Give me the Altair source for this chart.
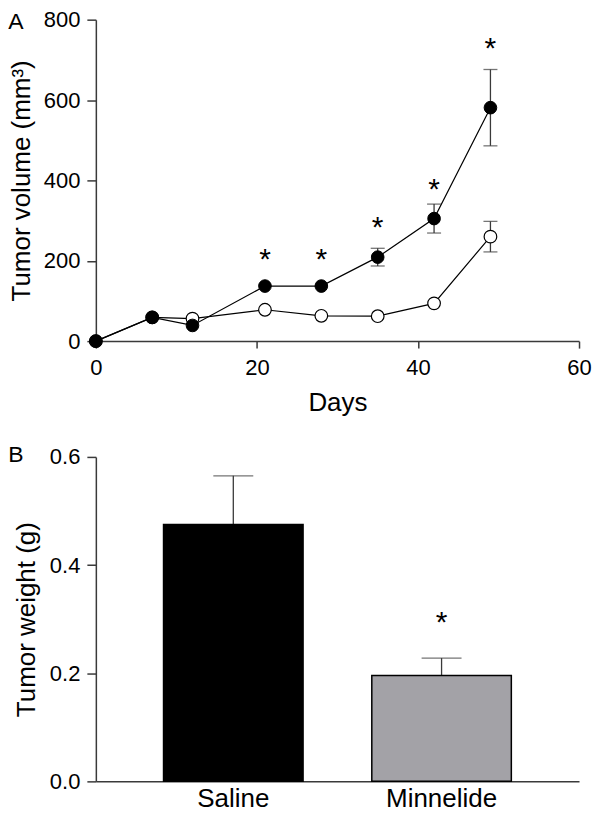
import altair as alt
import pandas as pd

FONT = "Liberation Sans"

# ---- Panel A data (tumor volume over time) ----
days = [0, 7, 12, 21, 28, 35, 42, 49]
saline = [0, 59, 39, 137, 137, 209, 305, 581]
saline_sem = [0, 0, 0, 0, 0, 22, 36, 95]
minnelide = [0, 59, 56, 78, 63, 62, 94, 260]
minnelide_sem = [0, 0, 0, 0, 0, 0, 0, 38]
star_days = [21, 28, 35, 42, 49]
star_vol = [212, 212, 291, 387, 736]

# ---- Panel B data (tumor weight) ----
groups = ["Saline", "Minnelide"]
weight = [0.475, 0.196]
weight_sem = [0.090, 0.032]
star_group = ["Minnelide"]
star_weight = [0.300]

dfA = pd.concat([
    pd.DataFrame({"day": days, "vol": saline, "sem": saline_sem, "group": "Saline"}),
    pd.DataFrame({"day": days, "vol": minnelide, "sem": minnelide_sem, "group": "Minnelide"}),
], ignore_index=True)
dfStarA = pd.DataFrame({"day": star_days, "vol": star_vol})
dfB = pd.DataFrame({"group": groups, "w": weight, "sem": weight_sem})
dfStarB = pd.DataFrame({"group": star_group, "w": star_weight})

AXC = "#3a3a3a"

xA = alt.X("day:Q", scale=alt.Scale(domain=[0, 60], nice=False),
           axis=alt.Axis(values=[0, 20, 40, 60], title="Days", tickSize=7, labelFlush=False,
                         labelPadding=9, titlePadding=12))


def yA(field):
    return alt.Y(f"{field}:Q", scale=alt.Scale(domain=[0, 800], nice=False),
                 axis=alt.Axis(values=[0, 200, 400, 600, 800], title="Tumor volume (mm³)",
                               labelFlush=False, tickSize=9, labelPadding=7, titlePadding=9))


base = alt.Chart(dfA)
lines = base.mark_line(color="black", strokeWidth=1.2).encode(x=xA, y=yA("vol"), detail="group:N")
errA = base.transform_filter("datum.sem > 0").transform_calculate(
    lo="datum.vol - datum.sem", hi="datum.vol + datum.sem")
err_rule = errA.mark_rule(color=AXC, strokeWidth=1.3).encode(x=xA, y=yA("lo"), y2="hi:Q")
err_lo = errA.mark_tick(orient="horizontal", size=14, thickness=1.3, color=AXC).encode(x=xA, y=yA("lo"))
err_hi = errA.mark_tick(orient="horizontal", size=14, thickness=1.3, color=AXC).encode(x=xA, y=yA("hi"))
open_pts = base.transform_filter("datum.group == 'Minnelide'").mark_point(
    shape="circle", filled=True, fill="white", stroke="black", strokeWidth=1.2, size=160, opacity=1
).encode(x=xA, y=yA("vol"))
fill_pts = base.transform_filter("datum.group == 'Saline'").mark_point(
    shape="circle", filled=True, fill="black", stroke="black", strokeWidth=1, size=160, opacity=1
).encode(x=xA, y=yA("vol"))
starsA = alt.Chart(dfStarA).mark_text(text="*", fontSize=30, font=FONT, baseline="middle", dy=4).encode(
    x=xA, y=yA("vol"))
letterA = alt.Chart(pd.DataFrame({"t": ["A"]})).mark_text(
    fontSize=23, font=FONT, align="center", baseline="middle").encode(
    x=alt.value(-80), y=alt.value(2), text="t:N")

chartA = alt.layer(lines, err_rule, err_lo, err_hi, open_pts, fill_pts, starsA, letterA).properties(
    width=484, height=322)

# ---- Panel B ----
xB = alt.X("group:N", sort=groups,
           scale=alt.Scale(paddingInner=0.33, paddingOuter=0.325),
           axis=alt.Axis(title=None, labelAngle=0, ticks=False, labelFontSize=26, labelPadding=4))


def yB(field):
    return alt.Y(f"{field}:Q", scale=alt.Scale(domain=[0, 0.6], nice=False),
                 axis=alt.Axis(values=[0, 0.2, 0.4, 0.6], format=".1f", title="Tumor weight (g)",
                               labelFlush=False, tickSize=9, labelPadding=7, titlePadding=10))


bars = alt.Chart(dfB).mark_bar(stroke="black", strokeWidth=1.5).encode(
    x=xB, y=yB("w"),
    color=alt.Color("group:N", scale=alt.Scale(domain=groups, range=["#000000", "#a3a2a7"]), legend=None))
errB = alt.Chart(dfB).transform_calculate(hi="datum.w + datum.sem")
errB_rule = errB.mark_rule(color=AXC, strokeWidth=1.3).encode(x=xB, y=yB("w"), y2="hi:Q")
errB_cap = errB.mark_tick(orient="horizontal", size=40, thickness=1.3, color=AXC).encode(x=xB, y=yB("hi"))
starsB = alt.Chart(dfStarB).mark_text(text="*", fontSize=30, font=FONT, baseline="middle", dy=4).encode(
    x=xB, y=yB("w"))
letterB = alt.Chart(pd.DataFrame({"t": ["B"]})).mark_text(
    fontSize=23, font=FONT, align="center", baseline="middle").encode(
    x=alt.value(-80), y=alt.value(-1.5), text="t:N")

chartB = alt.layer(errB_rule, bars, errB_cap, starsB, letterB).properties(width=484, height=325)

chart = alt.vconcat(chartA, chartB, spacing=28).properties(
    padding={"left": 0, "top": 0, "right": 0, "bottom": 0}
).configure_view(stroke=None).configure_axis(
    grid=False,
    domainColor=AXC, domainWidth=1.5,
    tickColor=AXC, tickWidth=1.5,
    labelFont=FONT, labelFontSize=22, labelColor="black",
    titleFont=FONT, titleFontSize=26, titleFontWeight="normal", titleColor="black",
)

chart.save("out.html", embed_options={"renderer": "svg", "actions": False})
